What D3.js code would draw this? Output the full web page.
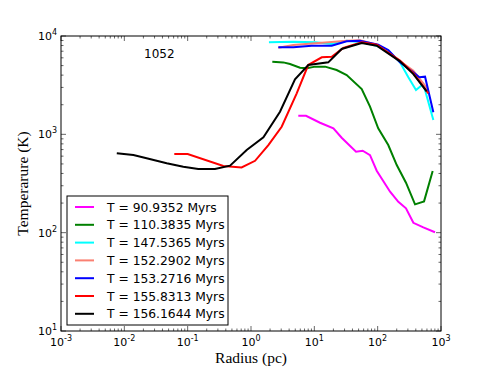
<!DOCTYPE html>
<html>
<head>
<meta charset="utf-8">
<script src="https://cdn.jsdelivr.net/npm/d3@7"></script>
<style>
  body { margin: 0; background: #fff; }
  svg { display: block; }
</style>
</head>
<body>
<div id="chart"></div>
<script>
// Series labels and colours
const labels = ["T = 90.9352 Myrs", "T = 110.3835 Myrs", "T = 147.5365 Myrs", "T = 152.2902 Myrs",
                "T = 153.2716 Myrs", "T = 155.8313 Myrs", "T = 156.1644 Myrs"];
const colors = ["#ff00ff", "#008000", "#00ffff", "#fa8072", "#0000ff", "#ff0000", "#000000"];

// Radius (pc) and temperature (K) per series
const r0 = [5.58, 7.39, 12.3, 20, 27, 45.5, 58, 75.7, 96.6, 157, 212, 280, 366, 526, 804];
const t0 = [1545, 1545, 1312, 1150, 923, 665, 681, 615, 427, 261, 206, 177, 126, 113, 101];

const r1 = [2.17, 3.24, 4.13, 5.94, 7.59, 10.3, 14.8, 22.5, 32.4, 56, 75.7, 102, 147, 200, 280, 389, 540, 739];
const t1 = [5480, 5390, 5190, 4760, 4690, 4880, 4880, 4510, 4010, 2890, 1910, 1150, 778, 487, 322, 194, 208, 424];

const r2 = [1.92, 4.66, 10.3, 18.8, 32.4, 56, 96.6, 147, 225, 305, 403, 526, 757];
const t2 = [8630, 8750, 8630, 8290, 8960, 8630, 7960, 7150, 5400, 3800, 2826, 3250, 1397];

const r3 = [2.7, 4.66, 10.3, 18.8, 32.4, 52.6, 96.6, 225, 366, 630];
const t3 = [7600, 8100, 8440, 8700, 8960, 9050, 8160, 5550, 4440, 2830];

const r4 = [2.7, 4.66, 9.08, 18.8, 32.4, 52.6, 102, 147, 225, 366, 455, 560, 757];
const t4 = [7670, 7670, 7960, 7960, 8840, 8960, 8160, 7210, 5400, 4275, 3800, 3855, 1675];

const r5 = [0.0615, 0.1, 0.366, 0.71, 1.16, 1.88, 3.05, 5.27, 8.0, 13.1, 18.8, 28.7, 56, 96.6, 225, 366, 631];
const t5 = [631, 631, 477, 461, 538, 778, 1195, 2612, 5070, 6070, 6150, 7550, 8630, 8150, 5620, 4200, 2612];

const r6 = [0.0076, 0.0139, 0.0225, 0.0467, 0.0853, 0.147, 0.27, 0.467, 0.855, 1.57, 2.87, 4.95, 8.04, 16.6, 27, 56, 96.6, 225, 366, 594];
const t6 = [641, 615, 570, 507, 468, 444, 444, 480, 692, 931, 1698, 3623, 5070, 5395, 7380, 8490, 7960, 5520, 4100, 2735];

const radii = [r0, r1, r2, r3, r4, r5, r6];
const temps = [t0, t1, t2, t3, t4, t5, t6];

const xTicks = [1e-3, 1e-2, 1e-1, 1e0, 1e1, 1e2, 1e3];
const xTickExp = ["-3", "-2", "-1", "0", "1", "2", "3"];
const yTicks = [1e1, 1e2, 1e3, 1e4];
const yTickExp = ["1", "2", "3", "4"];

const width = 491, height = 368;
const margin = {left: 61, right: 50, top: 36, bottom: 37};

const svg = d3.select("#chart").append("svg")
    .attr("width", width)
    .attr("height", height);

const x = d3.scaleLog().domain([1e-3, 1e3]).range([margin.left, width - margin.right]);
const y = d3.scaleLog().domain([1e1, 1e4]).range([height - margin.bottom, margin.top]);

const x0 = x.range()[0], x1 = x.range()[1];
const y0 = y.range()[0], y1 = y.range()[1];

// minor tick values
function minors(lo, hi) {
    const out = [];
    for (let e = lo; e < hi; e++)
        for (let m = 2; m <= 9; m++) out.push(m * Math.pow(10, e));
    return out;
}
const xMinor = minors(-3, 3);
const yMinor = minors(1, 4);

// lines
const line = d3.line().x(d => x(d[0])).y(d => y(d[1]));
const lines = svg.append("g");
radii.forEach((rs, i) => {
    lines.append("path")
        .datum(rs.map((r, j) => [r, temps[i][j]]))
        .attr("d", line)
        .attr("fill", "none")
        .attr("stroke", colors[i])
        .attr("stroke-width", 2)
        .attr("stroke-linejoin", "miter");
});

// ticks (inward, all four sides)
const ticks = svg.append("g").attr("stroke", "#000").attr("stroke-width", 0.6);
xTicks.forEach(v => {
    ticks.append("line").attr("x1", x(v)).attr("x2", x(v)).attr("y1", y0).attr("y2", y0 - 5);
    ticks.append("line").attr("x1", x(v)).attr("x2", x(v)).attr("y1", y1).attr("y2", y1 + 5);
});
xMinor.forEach(v => {
    ticks.append("line").attr("x1", x(v)).attr("x2", x(v)).attr("y1", y0).attr("y2", y0 - 2.5);
    ticks.append("line").attr("x1", x(v)).attr("x2", x(v)).attr("y1", y1).attr("y2", y1 + 2.5);
});
yTicks.forEach(v => {
    ticks.append("line").attr("x1", x0).attr("x2", x0 + 5).attr("y1", y(v)).attr("y2", y(v));
    ticks.append("line").attr("x1", x1).attr("x2", x1 - 5).attr("y1", y(v)).attr("y2", y(v));
});
yMinor.forEach(v => {
    ticks.append("line").attr("x1", x0).attr("x2", x0 + 2.5).attr("y1", y(v)).attr("y2", y(v));
    ticks.append("line").attr("x1", x1).attr("x2", x1 - 2.5).attr("y1", y(v)).attr("y2", y(v));
});

// frame
svg.append("rect")
    .attr("x", x0).attr("y", y1)
    .attr("width", x1 - x0).attr("height", y0 - y1)
    .attr("fill", "none")
    .attr("stroke", "#000")
    .attr("stroke-width", 1);

// tick labels
const font = "DejaVu Sans, sans-serif";
xTicks.forEach((v, i) => {
    const t = svg.append("text")
        .attr("x", x(v)).attr("y", y0 + 15)
        .attr("text-anchor", "middle")
        .attr("font-family", font).attr("font-size", 11);
    t.append("tspan").text("10");
    t.append("tspan").attr("dy", -5).attr("font-size", 8).text(xTickExp[i]);
});
yTicks.forEach((v, i) => {
    const t = svg.append("text")
        .attr("x", x0 - 4).attr("y", y(v) + 4)
        .attr("text-anchor", "end")
        .attr("font-family", font).attr("font-size", 11);
    t.append("tspan").text("10");
    t.append("tspan").attr("dy", -5).attr("font-size", 8).text(yTickExp[i]);
});

// axis labels
const serif = "Liberation Serif, DejaVu Serif, serif";
svg.append("text")
    .attr("x", (x0 + x1) / 2).attr("y", 363)
    .attr("text-anchor", "middle")
    .attr("font-family", serif).attr("font-size", 15.5)
    .text("Radius (pc)");
svg.append("text")
    .attr("transform", `translate(28, ${(y0 + y1) / 2}) rotate(-90)`)
    .attr("text-anchor", "middle")
    .attr("font-family", serif).attr("font-size", 15.5)
    .text("Temperarure (K)");

// annotation
svg.append("text")
    .attr("x", 144).attr("y", 58)
    .attr("font-family", font).attr("font-size", 12)
    .text("1052");

// legend
const legend = svg.append("g");
legend.append("rect")
    .attr("x", 67).attr("y", 196)
    .attr("width", 161).attr("height", 129)
    .attr("fill", "#fff")
    .attr("stroke", "#000")
    .attr("stroke-width", 1);
labels.forEach((lab, i) => {
    const ly = 207 + i * 17.8;
    legend.append("line")
        .attr("x1", 75).attr("x2", 94)
        .attr("y1", ly).attr("y2", ly)
        .attr("stroke", colors[i]).attr("stroke-width", 2);
    legend.append("text")
        .attr("x", 107).attr("y", ly + 4.5)
        .attr("font-family", font).attr("font-size", 12.3)
        .text(lab);
});
</script>
</body>
</html>
